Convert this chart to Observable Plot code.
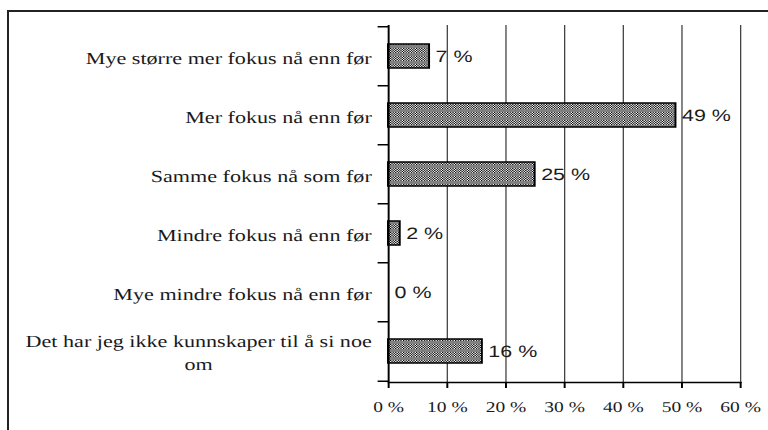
<!DOCTYPE html>
<html><head><meta charset="utf-8">
<script src="https://cdn.jsdelivr.net/npm/d3@7"></script>
<script src="https://cdn.jsdelivr.net/npm/@observablehq/plot@0.6"></script>
<style>
html,body{margin:0;padding:0;background:#fff;overflow:hidden}
#wrap{position:relative;width:768px;height:430px;overflow:hidden}
#chart{position:absolute;left:0;top:0}
#border{position:absolute;left:7px;top:10px;width:900px;height:600px;border-left:2px solid #222;border-top:2px solid #222;pointer-events:none}
#chart text{text-rendering:geometricPrecision}
</style></head><body>
<div id="wrap"><div id="chart"></div><div id="border"></div></div>
<script>
// ---- data ----
const categories = [
  "Mye større mer fokus nå enn før",
  "Mer fokus nå enn før",
  "Samme fokus nå som før",
  "Mindre fokus nå enn før",
  "Mye mindre fokus nå enn før",
  "Det har jeg ikke kunnskaper til å si noe om"
];
const categoryLabels = [
  "Mye større mer fokus nå enn før",
  "Mer fokus nå enn før",
  "Samme fokus nå som før",
  "Mindre fokus nå enn før",
  "Mye mindre fokus nå enn før",
  "Det har jeg ikke kunnskaper til å si noe\nom"
];
const values = [7, 49, 25, 2, 0, 16];
const xTicks = [0, 10, 20, 30, 40, 50, 60];
const xTickLabels = ["0 %", "10 %", "20 %", "30 %", "40 %", "50 %", "60 %"];

const rows = categories.map((c, i) => ({category: c, value: values[i]}));

// ---- layout ----
const sx = 1.3;               // horizontal stretch of the original picture
const W = 768 / sx, H = 430;
const mTop = 25, mBottom = 48;
const step = (H - mTop - mBottom) / categories.length;

const hatchDefs = () => {
  const defs = d3.create("svg:defs");
  const p = defs.append("pattern").attr("id", "hatch")
    .attr("patternUnits", "userSpaceOnUse").attr("width", 2).attr("height", 8);
  p.append("rect").attr("width", 2).attr("height", 8).attr("fill", "#fff");
  for (let r = 0; r < 5; ++r) p.append("rect").attr("x", r % 2).attr("y", r).attr("width", 1).attr("height", 1).attr("fill", "#000");
  p.append("rect").attr("y", 5).attr("width", 2).attr("height", 3).attr("fill", "#808080");
  return defs.node();
};

const svg = Plot.plot({
  width: W, height: H,
  marginLeft: 388 / sx, marginRight: W - 740 / sx,
  marginTop: mTop, marginBottom: mBottom,
  x: {domain: [0, 60], label: null},
  y: {domain: categories, paddingInner: 0.6, paddingOuter: 0.3, label: null},
  style: {fontFamily: "'Liberation Serif', 'Times New Roman', serif", fontSize: "17px", color: "#000", background: "transparent"},
  marks: [
    hatchDefs,
    Plot.ruleX(xTicks.slice(1), {stroke: "#444", strokeWidth: 1}),
    Plot.barX(rows, {x: "value", y: "category", fill: "url(#hatch)", stroke: "#000", strokeWidth: 1.5}),
    Plot.ruleX([0], {stroke: "#000", strokeWidth: 1.5}),
    Plot.frame({anchor: "bottom", stroke: "#000", strokeWidth: 1.5}),
    Plot.axisX({ticks: xTicks, tickFormat: d => xTickLabels[xTicks.indexOf(d)], tickSize: 6, tickPadding: 13, fontSize: 15, strokeWidth: 1.5, fill: "#1a1a1a"}),
    Plot.axisY({tickSize: 8, tickFormat: () => "", dy: -step / 2, strokeWidth: 1.5}),
    Plot.axisY({ticks: [categories[categories.length - 1]], tickSize: 8, tickFormat: () => "", dy: step / 2, strokeWidth: 1.5}),
    Plot.axisY({tickSize: 0, tickPadding: 13, tickFormat: d => categoryLabels[categories.indexOf(d)], lineHeight: 1.35, fill: "#1a1a1a"}),
    Plot.text(rows, {x: "value", y: "category", text: d => d.value + " %", textAnchor: "start", dx: 4.5,
      fontFamily: "'Liberation Sans', Arial, sans-serif", fontSize: 16.5, fill: "#1a1a1a"})
  ]
});

svg.setAttribute("width", 768);
svg.setAttribute("height", H);
svg.setAttribute("viewBox", `0 0 ${W} ${H}`);
svg.setAttribute("preserveAspectRatio", "none");
svg.style.maxWidth = "none";
svg.style.width = "768px";
svg.style.height = H + "px";
document.getElementById("chart").appendChild(svg);

// centre the second line of the wrapped category label under the first
const wrapped = [...svg.querySelectorAll("text")].find(el => el.textContent.startsWith("Det har"));
if (wrapped) {
  const spans = wrapped.querySelectorAll("tspan");
  if (spans.length > 1) {
    const w = spans[0].getComputedTextLength();
    const x0 = +(spans[0].getAttribute("x") || 0);
    spans[1].setAttribute("text-anchor", "middle");
    spans[1].setAttribute("x", x0 - w / 2);
  }
}
</script>
</body></html>
